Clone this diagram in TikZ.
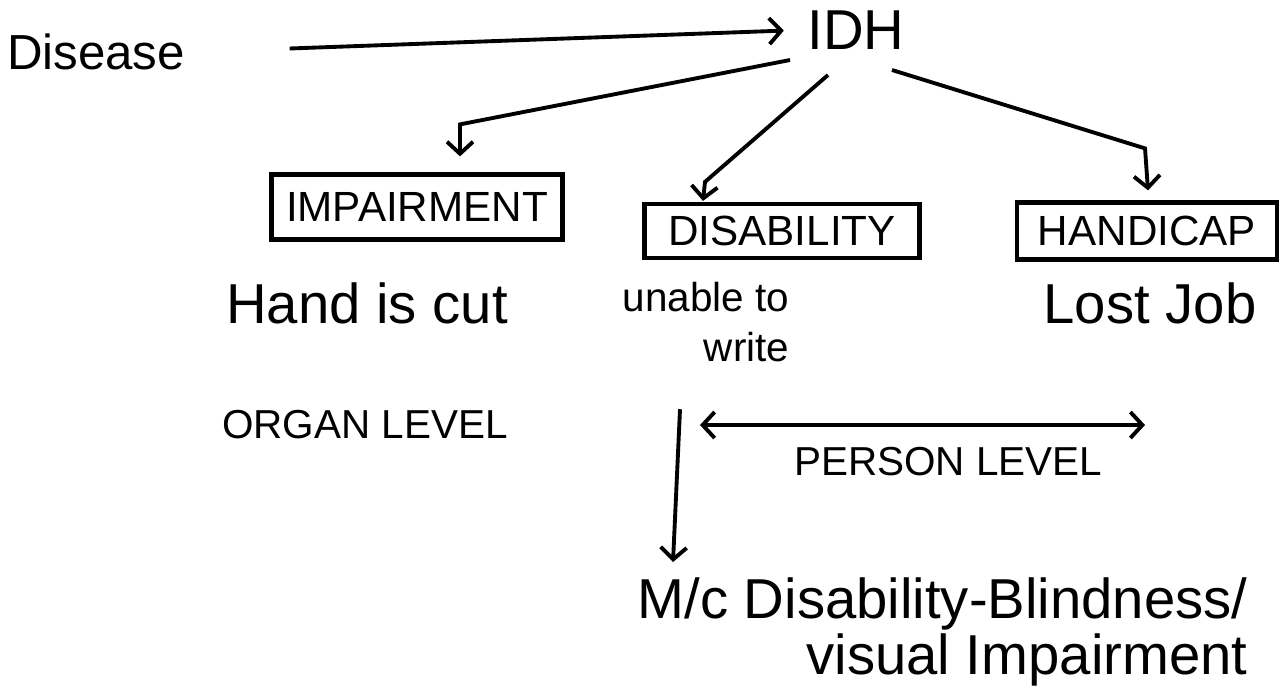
\documentclass[tikz,border=0pt]{standalone}
\usepackage{fontspec}
\setmainfont{Liberation Sans}
\usepackage{tikz}
\usetikzlibrary{arrows.meta, positioning, calc}
\tikzset{
  idhbox/.style={
    draw, line width=1.2pt, align=center,
    font=\fontsize{12}{14}\selectfont, inner sep=2pt
  },
  idharrow/.style={
    -{Straight Barb[length=1.2mm, width=2.6mm]}, line width=1.1pt
  },
  idhtwoway/.style={
    {Straight Barb[length=1.2mm, width=2.6mm]}-{Straight Barb[length=1.2mm, width=2.6mm]},
    line width=1.1pt
  },
  idhlabel/.style={
    font=\fontsize{16}{18}\selectfont, inner sep=2pt
  },
  idhlevel/.style={
    font=\fontsize{11.5}{13}\selectfont, inner sep=2pt
  },
}

\begin{document}
\begin{tikzpicture}[x=0.01cm, y=-0.01cm]
  \useasboundingbox (0,0) rectangle (1286,690);

  % ── Top line ──
  \node[idhlabel, font=\fontsize{14}{16}\selectfont] (disease) at (96,52) {Disease};
  \node[idhlabel] (idh) at (856,30) {IDH};

  % ── The three boxes ──
  \node[idhbox, minimum width=2.91cm, minimum height=0.65cm] (imp) at (417,207) {IMPAIRMENT};
  \node[idhbox, minimum width=2.75cm, minimum height=0.54cm] (dis) at (782,231) {DISABILITY};
  \node[idhbox, minimum width=2.60cm, minimum height=0.57cm] (hcap) at (1147,231) {HANDICAP};

  % ── Examples and levels ──
  \node[idhlabel] (cut) at (367,303) {Hand is cut};
  \node[idhlabel, font=\fontsize{11.5}{14}\selectfont, align=right] (unable) at (706,322) {unable to\\write};
  \node[idhlabel] (job) at (1150,303) {Lost Job};
  \node[idhlevel] (organ) at (365,425) {ORGAN LEVEL};
  \node[idhlevel] (person) at (948,462) {PERSON LEVEL};
  \node[idhlabel, font=\fontsize{16}{16}\selectfont, align=right, anchor=north west]
    (mc) at (630,570) {M/c Disability-Blindness/\\visual Impairment};

  % ── Arrows ──
  \draw[idharrow, shorten <=0.97cm, shorten >=0.16cm] (disease.east) -- (idh.west);
  \draw[idharrow] ($(idh)+(-66,30)$) -- ($(imp.north)+(43,-48)$) -- ($(imp.north)+(43,-16)$);
  \draw[idharrow] ($(idh)+(-28,45)$) -- ($(dis.north)+(-77,-20)$) -- ($(dis.north)+(-79,-1)$);
  \draw[idharrow] ($(idh)+(36,40)$) -- ($(hcap.north)+(-2,-52)$) -- ($(hcap.north)+(1,-10)$);
  \draw[idharrow] ($(unable.south)+(-26,40)$) -- ($(mc.north west)+(43,-8)$);
  \draw[idhtwoway] ($(person)+(-248,-37)$) -- ($(person)+(197,-37)$);
\end{tikzpicture}
\end{document}
